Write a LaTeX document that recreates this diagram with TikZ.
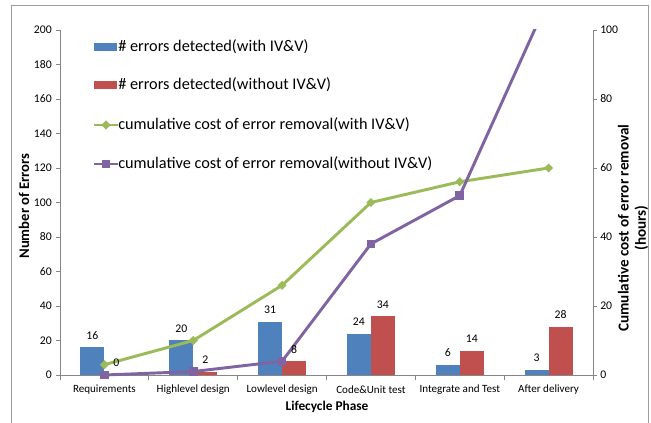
\documentclass[tikz,border=0pt]{standalone}
\usepackage{fontspec}
\setmainfont{Carlito}
\usetikzlibrary{shapes.geometric}

\definecolor{barblue}{HTML}{4F81BD}
\definecolor{barred}{HTML}{C0504D}
\definecolor{linegreen}{HTML}{9BBB59}
\definecolor{linepurple}{HTML}{8064A2}
\definecolor{axisgray}{HTML}{868686}

\tikzset{
    axisline/.style={axisgray, line width=0.6pt},
    ticklbl/.style={inner sep=0pt, font=\fontsize{8.8}{10}\selectfont},
    catlbl/.style={inner sep=0pt, font=\fontsize{8.3}{10}\selectfont},
    datalbl/.style={inner sep=0pt, font=\fontsize{8.8}{10}\selectfont},
    titlelbl/.style={inner sep=0pt, font=\fontsize{11}{13}\selectfont\bfseries},
    legendlbl/.style={inner sep=0pt, anchor=west, font=\fontsize{12.2}{14}\selectfont},
    bluebar/.style={fill=barblue},
    redbar/.style={fill=barred},
    greenline/.style={linegreen, line width=2.2pt, line join=round},
    purpleline/.style={linepurple, line width=2.2pt, line join=round},
    greenmark/.style={diamond, fill=linegreen, inner sep=0pt, minimum size=7pt},
    purplemark/.style={rectangle, fill=linepurple, inner sep=0pt, minimum size=6.5pt},
}

\begin{document}
\begin{tikzpicture}[x=0.75pt, y=-0.75pt]

    \pgfmathsetmacro{\xl}{60}       % left axis
    \pgfmathsetmacro{\xr}{593}      % right axis
    \pgfmathsetmacro{\yz}{375}      % zero line
    \pgfmathsetmacro{\yt}{30}       % top of plot
    \pgfmathsetmacro{\cw}{(\xr-\xl)/6}
    \pgfmathsetmacro{\bw}{24}
    \pgfmathsetmacro{\ls}{(\yz-\yt)/200}  % errors
    \pgfmathsetmacro{\rs}{(\yz-\yt)/100}  % hours

    \useasboundingbox (0,0) rectangle (651,423);

    % frame
    \draw[axisgray!80, line width=0.7pt] (11,423) -- (11,5) -- (648,5) -- (648,423);

    % axes
    \draw[axisline] (\xl,\yt) -- (\xl,\yz) -- (\xr,\yz) -- (\xr,\yt);

    % left axis ticks
    \foreach \v in {0,20,...,200} {
        \draw[axisline] (\xl-4,{\yz-\v*\ls}) -- (\xl,{\yz-\v*\ls});
        \node[ticklbl, anchor=east] (lt\v) at (\xl-8,{\yz-\v*\ls}) {\v};
    }
    % right axis ticks
    \foreach \v in {0,20,...,100} {
        \draw[axisline] (\xr,{\yz-\v*\rs}) -- (\xr+4,{\yz-\v*\rs});
        \node[ticklbl, anchor=west] (rt\v) at (\xr+7,{\yz-\v*\rs}) {\v};
    }
    % category ticks
    \foreach \k in {0,...,6} {
        \draw[axisline] ({\xl+\k*\cw},\yz) -- ({\xl+\k*\cw},\yz+5);
    }

    % bars and points
    \foreach \b/\r/\g/\p/\name [count=\i] in {16/0/3/0/Requirements,
            20/2/10/1/Highlevel design, 31/8/26/4/Lowlevel design,
            24/34/50/38/Code\&Unit test, 6/14/56/52/Integrate and Test,
            3/28/60/109/After delivery} {
        \pgfmathsetmacro{\c}{\xl+(\i-0.5)*\cw}
        \fill[bluebar] ({\c-\bw},\yz) rectangle (\c,{\yz-\b*\ls});
        \fill[redbar] (\c,\yz) rectangle ({\c+\bw},{\yz-\r*\ls});
        \node[catlbl] (cat\i) at (\c,390) {\name};
        \coordinate (g\i) at (\c,{\yz-\g*\rs});
        \coordinate (p\i) at (\c,{\yz-\p*\rs});
    }

    % cumulative cost lines
    \draw[greenline] (g1) \foreach \i in {2,...,6} { -- (g\i) };
    \begin{scope}
        \clip (0,\yt) rectangle (651,423);
        \draw[purpleline] (p1) \foreach \i in {2,...,6} { -- (p\i) };
    \end{scope}
    \foreach \i in {1,...,6} {
        \node[greenmark] at (g\i) {};
    }
    \foreach \i in {1,...,5} {
        \node[purplemark] at (p\i) {};
    }

    % data labels
    \foreach \b/\r [count=\i] in {16/0, 20/2, 31/8, 24/34, 6/14, 3/28} {
        \pgfmathsetmacro{\c}{\xl+(\i-0.5)*\cw}
        \node[datalbl] (bl\i) at ({\c-\bw/2},{\yz-\b*\ls-12}) {\b};
        \node[datalbl] (rl\i) at ({\c+\bw/2},{\yz-\r*\ls-12}) {\r};
    }

    % axis titles
    \node[titlelbl, font=\fontsize{10}{12}\selectfont\bfseries] (xtitle) at (327,407) {Lifecycle Phase};
    \node[titlelbl, rotate=90] (ytitle) at (24,206) {Number of Errors};
    \node[titlelbl, rotate=90, align=center, font=\fontsize{11.4}{13}\selectfont\bfseries]
        (y2title) at (633,228) {Cumulative cost of error removal\\(hours)};

    % legend
    \fill[bluebar] (94,43) rectangle (117,51);
    \node[legendlbl] (leg1) at (118,47) {\# errors detected(with IV\&V)};
    \fill[redbar] (94,81) rectangle (117,89);
    \node[legendlbl] (leg2) at (118,85) {\# errors detected(without IV\&V)};
    \coordinate (la) at (94,125);
    \coordinate (lb) at (118,125);
    \draw[greenline] (la) -- (lb);
    \node[greenmark] at (106,125) {};
    \node[legendlbl] (leg3) at (lb) {cumulative cost of error removal(with IV\&V)};
    \coordinate (lc) at (94,164);
    \coordinate (ld) at (118,164);
    \draw[purpleline] (lc) -- (ld);
    \node[purplemark] at (106,164) {};
    \node[legendlbl] (leg4) at (ld) {cumulative cost of error removal(without IV\&V)};

\end{tikzpicture}
\end{document}
